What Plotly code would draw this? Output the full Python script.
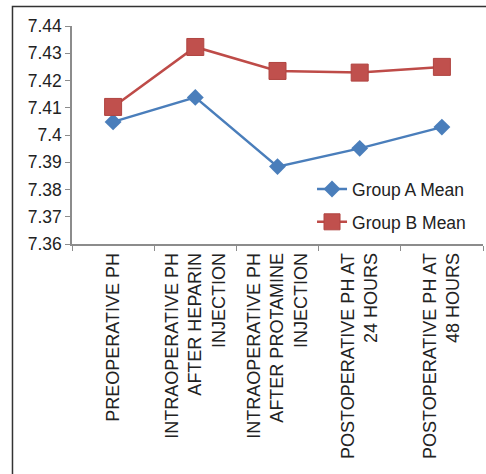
import plotly.graph_objects as go

categories = [
    "PREOPERATIVE PH",
    "INTRAOPERATIVE PH<br>AFTER HEPARIN<br>INJECTION",
    "INTRAOPERATIVE PH<br>AFTER PROTAMINE<br>INJECTION",
    "POSTOPERATIVE PH AT<br>24 HOURS",
    "POSTOPERATIVE PH AT<br>48 HOURS",
]
group_a = [7.4048, 7.4138, 7.3884, 7.3951, 7.4029]
group_b = [7.4103, 7.4323, 7.4235, 7.4229, 7.4250]
ytick_vals = [7.36, 7.37, 7.38, 7.39, 7.40, 7.41, 7.42, 7.43, 7.44]
ytick_text = ["7.36", "7.37", "7.38", "7.39", "7.4", "7.41", "7.42", "7.43", "7.44"]

FONT = "Arial, Liberation Sans, sans-serif"
TXT = "#222222"

fig = go.Figure()
fig.add_trace(go.Scatter(
    x=categories, y=group_a, name="Group A Mean", mode="lines+markers",
    line=dict(color="#4A7EBB", width=2.5),
    marker=dict(symbol="diamond", size=13, color="#4A7EBB"),
    legendgroup="a",
))
fig.add_trace(go.Scatter(
    x=categories, y=group_b, name="Group B Mean", mode="lines+markers",
    line=dict(color="#BE4B48", width=2.5),
    marker=dict(symbol="square", size=17, color="#C0504D",
                line=dict(color="#B04440", width=1)),
    legendgroup="b",
))

fig.update_layout(
    width=486, height=474,
    margin=dict(l=72, r=3, t=26, b=230),
    paper_bgcolor="white", plot_bgcolor="white",
    font=dict(family=FONT, size=17.5, color=TXT),
    showlegend=True,
    legend=dict(
        x=0.584, y=0.334, xanchor="left", yanchor="top",
        bgcolor="rgba(0,0,0,0)", font=dict(size=17.5, color=TXT),
        tracegroupgap=7, traceorder="grouped",
    ),
    xaxis=dict(
        type="category", tickangle=-90, showgrid=False,
        showline=True, linecolor="#8C8C8C", linewidth=1.5,
        ticks="outside", tickson="boundaries", ticklen=5, tickcolor="#8C8C8C",
        tickfont=dict(size=18, color=TXT, family=FONT),
        range=[-0.5, 4.5],
    ),
    yaxis=dict(
        range=[7.36, 7.44], tickvals=ytick_vals, ticktext=ytick_text,
        showgrid=False, zeroline=False,
        showline=True, linecolor="#8C8C8C", linewidth=1.5,
        ticks="outside", ticklen=5, tickcolor="#8C8C8C",
        tickfont=dict(size=17.5, color=TXT, family=FONT),
    ),
    shapes=[dict(
        type="rect", xref="paper", yref="paper",
        x0=-0.1448, x1=1.05, y0=-1.2, y1=1.09,
        line=dict(color="#333333", width=1.5), fillcolor="rgba(0,0,0,0)",
        layer="below",
    )],
)

fig.write_html("out.html", config={"displayModeBar": False},
               post_script="document.body.style.margin='0';")
